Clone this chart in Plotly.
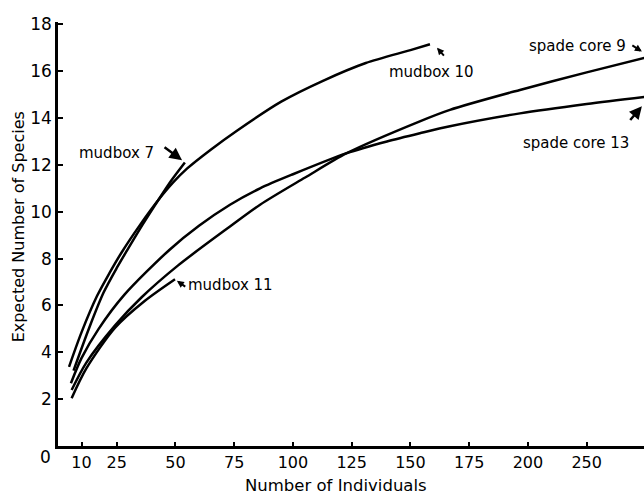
import plotly.graph_objects as go

# ---- data ----
mudbox10_x = [4.7, 10, 16.6, 22, 27, 35, 42.7, 49, 55, 65, 76, 95, 113, 131, 150, 158.3]
mudbox10_y = [3.38, 4.85, 6.4, 7.4, 8.25, 9.45, 10.5, 11.25, 11.85, 12.65, 13.45, 14.7, 15.6, 16.35, 16.9, 17.15]

mudbox7_x = [6.6, 13.3, 19.4, 25, 29.4, 36, 42.7, 48, 54]
mudbox7_y = [3.22, 5.05, 6.55, 7.6, 8.35, 9.45, 10.5, 11.3, 12.1]

spade13_x = [5.5, 10, 17.3, 28.2, 47.5, 60, 73.2, 86, 100, 122.9, 140, 154, 166.8, 196.6, 225, 249.5]
spade13_y = [2.68, 3.75, 5.0, 6.45, 8.38, 9.4, 10.3, 11.0, 11.6, 12.5, 13.0, 13.35, 13.65, 14.2, 14.6, 14.9]

spade9_x = [5.8, 12, 24.3, 35.6, 51, 73.2, 86, 105, 122.9, 154, 166.8, 196.6, 225, 249.5]
spade9_y = [2.39, 3.55, 5.15, 6.35, 7.7, 9.37, 10.3, 11.45, 12.5, 13.86, 14.35, 15.2, 15.95, 16.57]

mudbox11_x = [5.8, 12, 24.3, 37, 49.8]
mudbox11_y = [2.04, 3.3, 5.05, 6.2, 7.12]

x_tickvals = [10, 25, 50, 75, 100, 125, 150, 175, 200, 225]
x_ticktext = ["10", "25", "50", "75", "100", "125", "150", "175", "200", "250"]
y_tickvals = [2, 4, 6, 8, 10, 12, 14, 16, 18]

FONT = "DejaVu Sans"

fig = go.Figure()
for xs, ys, nm in [
    (mudbox10_x, mudbox10_y, "mudbox 10"),
    (mudbox7_x, mudbox7_y, "mudbox 7"),
    (spade13_x, spade13_y, "spade core 13"),
    (spade9_x, spade9_y, "spade core 9"),
    (mudbox11_x, mudbox11_y, "mudbox 11"),
]:
    fig.add_trace(go.Scatter(x=xs, y=ys, mode="lines", name=nm,
                             line=dict(color="black", width=2.5, shape="spline", smoothing=0.8),
                             showlegend=False, hoverinfo="skip"))

ann = []
labels = [
    ("mudbox 7", 25.1, 12.52),
    ("mudbox 10", 159.1, 15.98),
    ("spade core 9", 220.9, 17.09),
    ("spade core 13", 220.4, 12.95),
    ("mudbox 11", 73.6, 6.88),
]
for t, x, y in labels:
    ann.append(dict(x=x, y=y, text=t, showarrow=False, xanchor="center", yanchor="middle",
                    font=dict(family=FONT, size=15, color="black")))
# arrows (head x,y ; tail ax,ay ; size)
arrows = [
    (52.8, 12.2, 44.7, 12.8, 1.0, 2.5),
    (161.3, 17.0, 164.8, 16.6, 0.7, 2.0),
    (248.5, 16.84, 243.8, 17.14, 0.7, 2.0),
    (248.5, 14.5, 243.0, 13.85, 1.0, 2.5),
    (50.6, 7.05, 54.8, 6.76, 0.7, 2.0),
]
for x, y, ax, ay, sz, w in arrows:
    ann.append(dict(x=x, y=y, ax=ax, ay=ay, xref="x", yref="y", axref="x", ayref="y",
                    text="", showarrow=True, arrowhead=2, arrowsize=sz, arrowwidth=w,
                    arrowcolor="black", standoff=0, startstandoff=0))
ann.append(dict(x=0, y=0, text="0", showarrow=False, xanchor="right", yanchor="middle",
                xshift=-5, yshift=-11, font=dict(family=FONT, size=17, color="black")))
# axis titles
ann.append(dict(x=0.475, y=-0.092, xref="paper", yref="paper", text="Number of Individuals",
                showarrow=False, xanchor="center", yanchor="middle",
                font=dict(family=FONT, size=16.5, color="black")))
ann.append(dict(x=-0.068, y=0.516, xref="paper", yref="paper", text="Expected Number of Species",
                showarrow=False, xanchor="center", yanchor="middle", textangle=-90,
                font=dict(family=FONT, size=16, color="black")))

fig.update_layout(
    width=644, height=498,
    margin=dict(l=58, r=0, t=22, b=52),
    paper_bgcolor="white", plot_bgcolor="white",
    font=dict(family=FONT, color="black"),
    annotations=ann,
    xaxis=dict(range=[0, 249.4], tickvals=x_tickvals, ticktext=x_ticktext, automargin=False,
               showgrid=False, zeroline=False, showline=True, linecolor="black", linewidth=2.5,
               ticks="inside", ticklen=4, tickcolor="black", tickwidth=1.5,
               tickfont=dict(family=FONT, size=16, color="black")),
    yaxis=dict(range=[0, 18.1], tickvals=y_tickvals, automargin=False,
               showgrid=False, zeroline=False, showline=True, linecolor="black", linewidth=2.5,
               ticks="inside", ticklen=5, tickcolor="black", tickwidth=1.5,
               tickfont=dict(family=FONT, size=17, color="black")),
)

fig.write_html("out.html", config={"displayModeBar": False},
               post_script="document.body.style.margin='0';document.body.style.overflow='hidden';")
